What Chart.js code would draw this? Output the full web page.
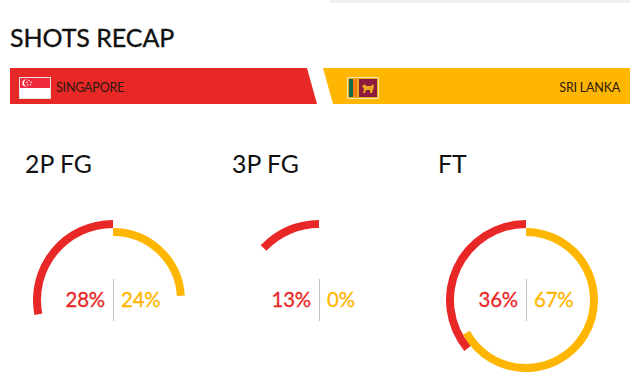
<!DOCTYPE html>
<html>
<head>
<meta charset="utf-8">
<title>Shots recap</title>
<script src="https://cdn.jsdelivr.net/npm/chart.js@4"></script>
<style>
  html, body { margin: 0; padding: 0; background: #fff; }
  body { width: 643px; height: 390px; position: relative; overflow: hidden; font-family: Lato, sans-serif; color: #111; }
  .abs { position: absolute; white-space: nowrap; }
  .topbar { left: 330px; top: 0; width: 300px; height: 3px; background: #efefef; }
  .title { left: 10px; top: 22px; font-size: 25px; line-height: 30px; letter-spacing: -0.05px; -webkit-text-stroke: 0.35px #111; }
  .banner { top: 68px; height: 36px; }
  .name { top: 80px; font-size: 12.5px; line-height: 16px; color: #2a1a10; letter-spacing: -0.2px; }
  .head { top: 149px; font-size: 24.8px; line-height: 30px; color: #111; }
  .pct { top: 286px; font-size: 20.4px; line-height: 26px; -webkit-text-stroke: 0.3px; letter-spacing: -0.15px; }
  .red { color: #e82727; }
  .yellow { color: #ffb600; }
  .sep { top: 279px; width: 1px; height: 42px; background: #c4c4c4; }
  canvas { position: absolute; top: 220px; }
</style>
</head>
<body>
<div class="abs topbar"></div>
<div class="abs title">SHOTS RECAP</div>

<svg class="abs banner" style="left:10px" width="308" height="36"><polygon points="0,0 297,0 307,36 0,36" fill="#e82727"/></svg>
<svg class="abs banner" style="left:323px" width="307" height="36"><polygon points="0,0 307,0 307,36 10,36" fill="#ffb600"/></svg>

<!-- bayraklar -->
<svg class="abs" style="left:19px;top:77px" width="32" height="22">
  <rect x="0.5" y="0.5" width="31" height="21" fill="#fff" stroke="#e4e4e4"/>
  <rect x="1" y="1" width="30" height="10" fill="#ef2b3d"/>
  <circle cx="7" cy="6" r="3.6" fill="#fff"/>
  <circle cx="8.5" cy="6" r="3.4" fill="#ef2b3d"/>
  <circle cx="10" cy="3.6" r="0.7" fill="#fff"/>
  <circle cx="12.2" cy="5.2" r="0.7" fill="#fff"/>
  <circle cx="11.4" cy="7.8" r="0.7" fill="#fff"/>
  <circle cx="8.6" cy="7.8" r="0.7" fill="#fff"/>
  <circle cx="7.8" cy="5.2" r="0.7" fill="#fff"/>
</svg>
<svg class="abs" style="left:347px;top:77px" width="32" height="22">
  <rect x="0.5" y="0.5" width="31" height="21" fill="#e8ad1c" stroke="#f6e7b4"/>
  <rect x="2" y="2" width="4" height="18" fill="#0f6b4a"/>
  <rect x="6" y="2" width="4" height="18" fill="#f47b12"/>
  <rect x="12" y="2" width="18" height="18" fill="#8d1b3d"/>
  <path d="M15 9 L18 7 L19 9 L24 9 L26 7 L27 9 L26 13 L25 16 L23 16 L23 13 L19 13 L18 16 L16 16 L17 12 Z" fill="#e9a91f"/>
</svg>

<div class="abs name" style="left:56px">SINGAPORE</div>
<div class="abs name" style="right:23px">SRI LANKA</div>

<script>
var kategoriler = ["2P FG", "3P FG", "FT"];
var singapurYuzde = [28, 13, 36];
var sriLankaYuzde = [24, 0, 67];

var kirmizi = "#e82727";
var sari = "#ffb600";
var baslikSol = [25, 232, 438];
var merkezX = [113, 319, 526];

for (var i = 0; i < kategoriler.length; i++) {
  cizGrafik(i);
}

function ekleYazi(sinif, metin, sol, sag) {
  var d = document.createElement("div");
  d.className = "abs " + sinif;
  d.textContent = metin;
  if (sol !== null) d.style.left = sol + "px";
  if (sag !== null) d.style.right = sag + "px";
  document.body.appendChild(d);
}

function cizGrafik(i) {
  var x = merkezX[i];
  ekleYazi("head", kategoriler[i], baslikSol[i], null);
  ekleYazi("pct red", singapurYuzde[i] + "%", null, 643 - x + 8);
  ekleYazi("pct yellow", sriLankaYuzde[i] + "%", x + 8, null);

  var sep = document.createElement("div");
  sep.className = "abs sep";
  sep.style.left = x + "px";
  document.body.appendChild(sep);

  var c = document.createElement("canvas");
  c.width = 160;
  c.height = 160;
  c.style.left = (x - 80) + "px";
  c.style.width = "160px";
  c.style.height = "160px";
  document.body.appendChild(c);

  new Chart(c, {
    type: "doughnut",
    data: {
      labels: ["", "deger"],
      datasets: [{
        // kirmizi halka saat yonunun tersine acilir, bos dilim once gelir
        data: [100 - singapurYuzde[i], singapurYuzde[i]],
        backgroundColor: ["rgba(0,0,0,0)", kirmizi],
        borderWidth: 0
      }, {
        data: [sriLankaYuzde[i], 100 - sriLankaYuzde[i]],
        backgroundColor: [sari, "rgba(0,0,0,0)"],
        borderWidth: 0
      }]
    },
    options: {
      responsive: false,
      animation: false,
      cutout: "80%",
      plugins: { legend: { display: false }, tooltip: { enabled: false } },
      layout: { padding: 0 }
    }
  });
}
</script>
</body>
</html>
